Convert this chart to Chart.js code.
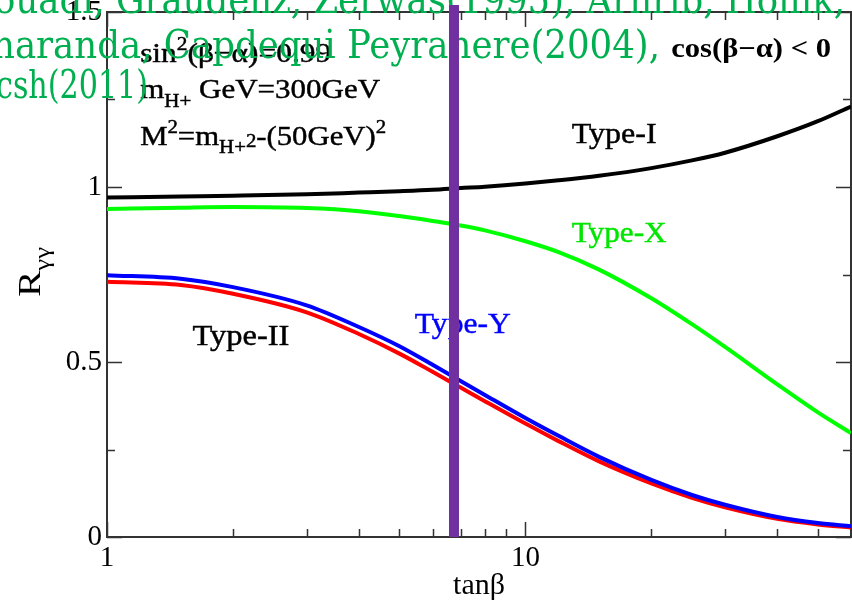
<!DOCTYPE html>
<html>
<head>
<meta charset="utf-8">
<script src="https://cdn.jsdelivr.net/npm/chart.js@4.4.0/dist/chart.umd.min.js"></script>
<style>
  html, body { margin: 0; padding: 0; background: #fff; }
</style>
</head>
<body>
<canvas id="ratio-canvas" width="852" height="604"></canvas>
<script>
// tan(beta) sample points and R_gamma-gamma for each 2HDM type
const tanBeta = [1, 1.5, 2, 3, 4, 5, 6, 7, 8, 10, 12, 15, 20, 25, 30, 40, 50, 60];
const typeI  = [0.970, 0.973, 0.975, 0.979, 0.984, 0.988, 0.992, 0.997, 1.001, 1.010, 1.019, 1.032, 1.054, 1.076, 1.098, 1.145, 1.188, 1.230];
const typeX  = [0.937, 0.941, 0.943, 0.940, 0.931, 0.917, 0.903, 0.890, 0.876, 0.845, 0.814, 0.764, 0.682, 0.608, 0.543, 0.436, 0.356, 0.297];
const typeII = [0.729, 0.720, 0.695, 0.642, 0.580, 0.524, 0.472, 0.427, 0.388, 0.324, 0.274, 0.216, 0.153, 0.112, 0.085, 0.052, 0.036, 0.027];
const typeY  = [0.748, 0.738, 0.714, 0.662, 0.600, 0.545, 0.492, 0.446, 0.406, 0.340, 0.289, 0.229, 0.163, 0.120, 0.092, 0.057, 0.040, 0.031];
const cutTanBeta = 6.75;

const xMajorTicks = [1, 10];
const xMinorTicks = [2, 3, 4, 5, 6, 7, 8, 9, 20, 30, 40, 50];
const yMajorTicks = [0, 0.5, 1, 1.5];
const yMinorTicks = [0.25, 0.75, 1.25];

const serif = "'Liberation Serif', 'Times New Roman', serif";

function pts(ys) {
	return tanBeta.map((t, i) => ({ x: t, y: ys[i] }));
}

// draw a run of text pieces: [text, mode] mode 0 normal, 1 sup, -1 sub, 3 small sup after a sub
function rich(ctx, x, y, parts, size, width, weight, stroke) {
	weight = weight || "normal";
	let natural = 0;
	parts.forEach(([s, m]) => {
		ctx.font = weight + " " + (m ? Math.round(size * 0.68) : size) + "px " + serif;
		natural += ctx.measureText(s).width;
	});
	const sx = width ? width / natural : 1;
	ctx.save();
	ctx.translate(x, y);
	ctx.scale(sx, 1);
	ctx.lineWidth = stroke || 0;
	ctx.strokeStyle = ctx.fillStyle;
	let cx = 0;
	parts.forEach(([s, m]) => {
		ctx.font = weight + " " + (m ? Math.round(size * 0.68) : size) + "px " + serif;
		let dy = 0;
		if (m === 1) dy = -size * 0.42;
		if (m === -1) dy = size * 0.3;
		if (m === 3) dy = size * 0.08;
		ctx.fillText(s, cx, dy);
		if (stroke) ctx.strokeText(s, cx, dy);
		cx += ctx.measureText(s).width;
	});
	ctx.restore();
}

function fitText(ctx, s, x, y, width, font) {
	ctx.font = font;
	const sx = width / ctx.measureText(s).width;
	ctx.save();
	ctx.translate(x, y);
	ctx.scale(sx, 1);
	ctx.fillText(s, 0, 0);
	ctx.restore();
}

const decorations = {
	id: "decorations",
	beforeDatasetsDraw(chart) {
		const ctx = chart.ctx;
		const xs = chart.scales.x, ys = chart.scales.y;
		const a = chart.chartArea;
		ctx.save();

		// frame with inward ticks on all sides
		ctx.strokeStyle = "#333";
		ctx.lineWidth = 2;
		ctx.strokeRect(a.left, a.top, a.right - a.left, a.bottom - a.top);
		ctx.lineWidth = 1.5;
		ctx.beginPath();
		const xt = (list, len) => list.forEach(v => {
			const px = Math.round(xs.getPixelForValue(v)) + 0.5;
			ctx.moveTo(px, a.bottom); ctx.lineTo(px, a.bottom - len);
			ctx.moveTo(px, a.top); ctx.lineTo(px, a.top + len);
		});
		const yt = (list, len) => list.forEach(v => {
			const py = Math.round(ys.getPixelForValue(v)) + 0.5;
			ctx.moveTo(a.left, py); ctx.lineTo(a.left + len, py);
			ctx.moveTo(a.right, py); ctx.lineTo(a.right - len, py);
		});
		xt(xMajorTicks, 15); xt(xMinorTicks, 8);
		yt(yMajorTicks, 15); yt(yMinorTicks, 8);
		ctx.stroke();

		// y axis title R_yy
		ctx.fillStyle = "#000";
		ctx.save();
		ctx.translate(40, 297);
		ctx.rotate(-Math.PI / 2);
		rich(ctx, 0, 0, [["R", 0], ["γγ", -1]], 31, 50);
		ctx.restore();

		// annotations
		ctx.textBaseline = "alphabetic";
		const X = v => xs.getPixelForValue(v), Y = v => ys.getPixelForValue(v);
		ctx.fillStyle = "#000";
		rich(ctx, X(1.2), Y(1.357), [["sin", 0], ["2", 1], ["(β−α)=0.99", 0]], 28, 191, "normal", 0.45);
		rich(ctx, X(1.2), Y(1.254), [["m", 0], ["H+", -1], [" GeV=300GeV", 0]], 28, 240, "normal", 0.45);
		rich(ctx, X(1.2), Y(1.12), [["M", 0], ["2", 1], ["=m", 0], ["H+", -1], ["2", 3], ["-(50GeV)", 0], ["2", 1]], 28, 246, "normal", 0.45);
		rich(ctx, X(22.3), Y(1.371), [["cos(β−α) < 0", 0]], 27, 160, "bold");
		rich(ctx, X(12.9), Y(1.126), [["Type-I", 0]], 30, 85, "normal", 0.45);
		rich(ctx, X(1.6), Y(0.549), [["Type-II", 0]], 30, 97, "normal", 0.45);
		ctx.fillStyle = "#00e600";
		rich(ctx, X(12.9), Y(0.843), [["Type-X", 0]], 30, 95, "normal", 0.45);
		ctx.fillStyle = "#0000ff";
		rich(ctx, X(5.44), Y(0.583), [["Type-Y", 0]], 30, 96, "normal", 0.45);

		// overlaid green reference text
		ctx.fillStyle = "#00b050";
		const gf = "40px 'DejaVu Serif Condensed', 'DejaVu Serif', serif";
		fitText(ctx, "ouadi, Graudenz, Zerwas(1995), Arhrib, Hollik,", -6, 13, 851, gf);
		fitText(ctx, "naranda, Capdequi Peyranere(2004),", -8, 58, 668, gf);
		fitText(ctx, "csh(2011)", -4, 98, 152, gf);
		ctx.restore();
	}
};

const ratioCanvas = document.getElementById("ratio-canvas").getContext("2d");

const line = (data, color) => ({
	data: pts(data),
	borderColor: color,
	borderWidth: 4,
	pointRadius: 0,
	cubicInterpolationMode: "monotone",
	fill: false,
});

const ratioChart = new Chart(ratioCanvas, {
	type: "line",
	data: {
		datasets: [
			{
				data: [{ x: cutTanBeta, y: 0 }, { x: cutTanBeta, y: 1.52 }],
				borderColor: "#7030a0",
				borderWidth: 10,
				pointRadius: 0,
				clip: false,
			},
			line(typeY, "#0000ff"),
			line(typeII, "#ff0000"),
			line(typeX, "#00ff00"),
			line(typeI, "#000000"),
		],
	},
	options: {
		responsive: false,
		animation: false,
		devicePixelRatio: 1,
		layout: { padding: { left: 0, right: 1, top: 12, bottom: 0 }, autoPadding: false },
		plugins: {
			legend: { display: false },
			tooltip: { enabled: false },
		},
		scales: {
			x: {
				type: "logarithmic",
				min: 1,
				max: 60,
				grid: { display: false, drawTicks: false },
				border: { display: false },
				ticks: {
					autoSkip: false,
					maxRotation: 0,
					padding: 4,
					color: "#000",
					font: { family: serif, size: 29 },
					callback: v => (v === 1 || v === 10 ? String(v) : ""),
				},
				title: {
					display: true,
					text: "tanβ",
					color: "#000",
					font: { family: serif, size: 30 },
					padding: { top: 0, bottom: 0 },
				},
				afterFit: s => {
					s.height = 67;
					s.paddingLeft = 0;
					s.paddingRight = 0;
				},
			},
			y: {
				min: 0,
				max: 1.5,
				grid: { display: false, drawTicks: false },
				border: { display: false },
				ticks: {
					stepSize: 0.5,
					padding: 5,
					color: "#000",
					font: { family: serif, size: 29, lineHeight: 0.3 },
					callback: v => String(v),
				},
				afterFit: s => {
					s.width = 107;
					s.paddingTop = 0;
					s.paddingBottom = 0;
				},
			},
		},
	},
	plugins: [decorations],
});
</script>
</body>
</html>
